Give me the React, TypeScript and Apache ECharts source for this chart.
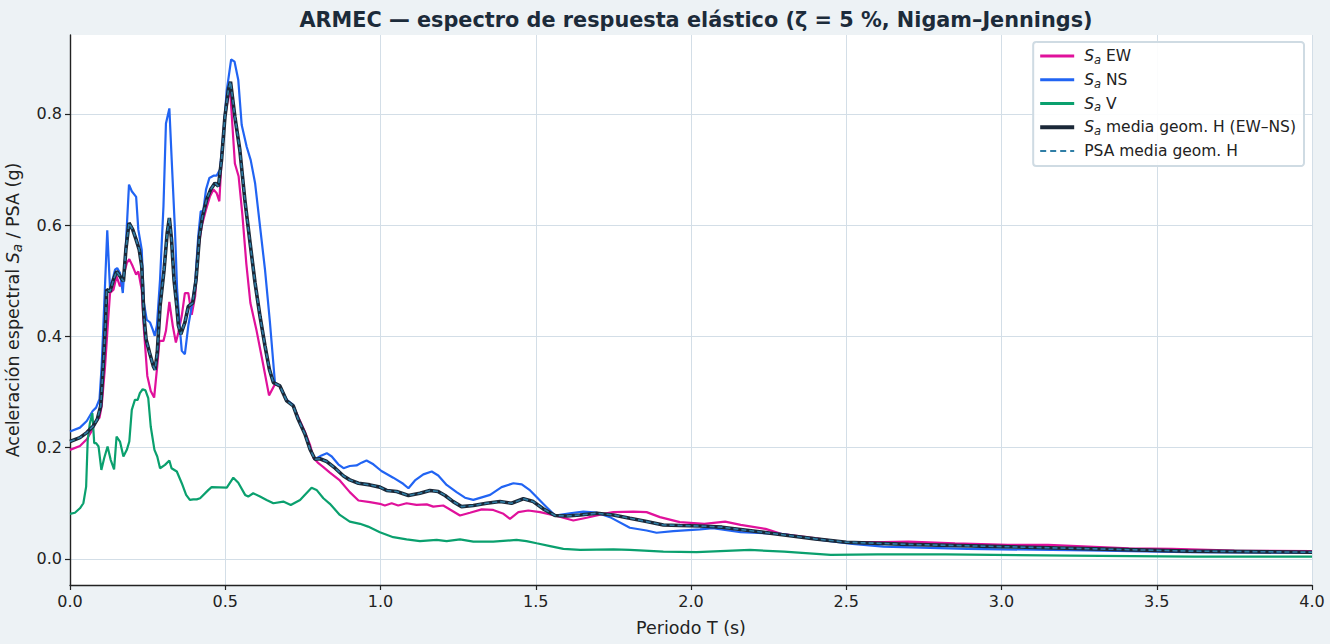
import React, { useEffect, useRef } from 'react';
import * as echarts from 'echarts';

type Pt = [number, number];

// Periodo T (s) vs Sa (g)
const sa_EW: Pt[] = [
  [0, 0.196], [0.032, 0.203], [0.054, 0.215], [0.07, 0.23], [0.084, 0.248], [0.095, 0.254], [0.102, 0.275],
  [0.113, 0.347], [0.123, 0.431], [0.129, 0.478], [0.14, 0.484], [0.15, 0.508], [0.161, 0.49], [0.172, 0.508],
  [0.183, 0.532], [0.191, 0.539], [0.202, 0.526], [0.213, 0.511], [0.22, 0.517], [0.231, 0.484], [0.238, 0.413],
  [0.249, 0.329], [0.26, 0.302], [0.271, 0.29], [0.281, 0.347], [0.288, 0.392], [0.301, 0.392], [0.309, 0.41],
  [0.32, 0.462], [0.331, 0.419], [0.341, 0.389], [0.349, 0.407], [0.36, 0.437], [0.37, 0.478], [0.381, 0.478],
  [0.392, 0.439], [0.403, 0.472], [0.413, 0.556], [0.424, 0.598], [0.438, 0.628], [0.451, 0.652], [0.462, 0.664],
  [0.472, 0.658], [0.481, 0.643], [0.488, 0.717], [0.499, 0.795], [0.515, 0.849], [0.531, 0.711], [0.543, 0.688],
  [0.555, 0.62], [0.568, 0.53], [0.581, 0.46], [0.601, 0.41], [0.622, 0.35], [0.641, 0.294], [0.66, 0.314],
  [0.676, 0.311], [0.698, 0.284], [0.719, 0.275], [0.735, 0.255], [0.757, 0.228], [0.773, 0.205], [0.784, 0.182],
  [0.8, 0.172], [0.816, 0.165], [0.837, 0.155], [0.869, 0.141], [0.901, 0.12], [0.929, 0.105], [0.966, 0.102],
  [0.998, 0.099], [1.014, 0.096], [1.036, 0.1], [1.057, 0.096], [1.084, 0.1], [1.116, 0.097], [1.149, 0.098],
  [1.17, 0.094], [1.202, 0.096], [1.229, 0.087], [1.256, 0.078], [1.288, 0.083], [1.326, 0.089], [1.363, 0.088],
  [1.396, 0.081], [1.417, 0.072], [1.444, 0.084], [1.476, 0.087], [1.514, 0.084], [1.568, 0.077], [1.621, 0.069],
  [1.664, 0.074], [1.718, 0.081], [1.75, 0.084], [1.814, 0.085], [1.857, 0.084], [1.9, 0.075], [1.964, 0.066],
  [2.043, 0.063], [2.11, 0.067], [2.16, 0.061], [2.24, 0.054], [2.29, 0.045], [2.39, 0.038], [2.49, 0.03],
  [2.62, 0.03], [2.7, 0.031], [2.85, 0.028], [3.02, 0.025], [3.15, 0.025], [3.41, 0.019], [3.55, 0.018],
  [3.75, 0.015], [4.0, 0.014],
];

const sa_NS: Pt[] = [
  [0, 0.229], [0.032, 0.236], [0.054, 0.248], [0.073, 0.266], [0.084, 0.272], [0.095, 0.287], [0.102, 0.347],
  [0.107, 0.413], [0.12, 0.591], [0.129, 0.484], [0.137, 0.502], [0.145, 0.52], [0.152, 0.523], [0.161, 0.514],
  [0.17, 0.478], [0.178, 0.544], [0.19, 0.673], [0.199, 0.661], [0.213, 0.651], [0.22, 0.592], [0.231, 0.556],
  [0.238, 0.46], [0.247, 0.43], [0.258, 0.425], [0.266, 0.413], [0.273, 0.401], [0.28, 0.42], [0.29, 0.502],
  [0.301, 0.634], [0.309, 0.783], [0.32, 0.81], [0.327, 0.724], [0.338, 0.592], [0.345, 0.484], [0.354, 0.413],
  [0.36, 0.374], [0.37, 0.368], [0.381, 0.419], [0.392, 0.454], [0.403, 0.496], [0.413, 0.58], [0.421, 0.625],
  [0.429, 0.625], [0.438, 0.664], [0.449, 0.685], [0.462, 0.689], [0.472, 0.689], [0.483, 0.7], [0.494, 0.765],
  [0.505, 0.843], [0.519, 0.898], [0.53, 0.894], [0.542, 0.861], [0.553, 0.78], [0.569, 0.741], [0.582, 0.717],
  [0.596, 0.676], [0.612, 0.598], [0.628, 0.52], [0.644, 0.425], [0.66, 0.317], [0.676, 0.311], [0.698, 0.286],
  [0.719, 0.277], [0.735, 0.253], [0.757, 0.224], [0.773, 0.197], [0.789, 0.179], [0.81, 0.186], [0.827, 0.19],
  [0.843, 0.184], [0.864, 0.17], [0.881, 0.163], [0.901, 0.167], [0.923, 0.168], [0.939, 0.173], [0.955, 0.177],
  [0.977, 0.17], [1.003, 0.158], [1.041, 0.146], [1.073, 0.135], [1.09, 0.127], [1.111, 0.141], [1.138, 0.152],
  [1.165, 0.157], [1.186, 0.15], [1.213, 0.133], [1.245, 0.12], [1.272, 0.11], [1.299, 0.106], [1.353, 0.115],
  [1.39, 0.129], [1.428, 0.136], [1.455, 0.134], [1.482, 0.123], [1.524, 0.099], [1.562, 0.078], [1.61, 0.082],
  [1.653, 0.085], [1.697, 0.083], [1.739, 0.075], [1.803, 0.056], [1.857, 0.051], [1.889, 0.047], [1.943, 0.05],
  [2.029, 0.053], [2.07, 0.055], [2.16, 0.048], [2.29, 0.045], [2.43, 0.033], [2.52, 0.027], [2.62, 0.022],
  [2.89, 0.018], [3.28, 0.015], [3.6, 0.012], [4.0, 0.011],
];

const sa_V: Pt[] = [
  [0, 0.081], [0.016, 0.083], [0.032, 0.091], [0.043, 0.1], [0.052, 0.13], [0.057, 0.214], [0.064, 0.244],
  [0.072, 0.262], [0.078, 0.208], [0.084, 0.208], [0.092, 0.202], [0.101, 0.16], [0.11, 0.181], [0.121, 0.202],
  [0.131, 0.178], [0.142, 0.161], [0.15, 0.22], [0.161, 0.211], [0.172, 0.184], [0.183, 0.196], [0.191, 0.211],
  [0.199, 0.268], [0.209, 0.286], [0.218, 0.286], [0.225, 0.298], [0.234, 0.305], [0.243, 0.303], [0.252, 0.289],
  [0.26, 0.238], [0.272, 0.196], [0.281, 0.184], [0.29, 0.163], [0.306, 0.169], [0.32, 0.177], [0.327, 0.163],
  [0.344, 0.157], [0.36, 0.136], [0.374, 0.115], [0.386, 0.106], [0.397, 0.107], [0.408, 0.107], [0.419, 0.109],
  [0.446, 0.124], [0.456, 0.129], [0.505, 0.128], [0.526, 0.146], [0.542, 0.137], [0.564, 0.115], [0.574, 0.112],
  [0.59, 0.118], [0.612, 0.112], [0.633, 0.106], [0.655, 0.1], [0.687, 0.103], [0.711, 0.097], [0.741, 0.106],
  [0.778, 0.128], [0.794, 0.124], [0.816, 0.109], [0.837, 0.099], [0.869, 0.079], [0.901, 0.067], [0.934, 0.063],
  [0.96, 0.058], [0.998, 0.048], [1.041, 0.039], [1.084, 0.035], [1.127, 0.032], [1.181, 0.034], [1.213, 0.032],
  [1.256, 0.035], [1.299, 0.031], [1.363, 0.031], [1.438, 0.034], [1.47, 0.032], [1.503, 0.028], [1.546, 0.023],
  [1.589, 0.018], [1.643, 0.016], [1.75, 0.017], [1.803, 0.016], [1.911, 0.013], [2.018, 0.012], [2.19, 0.016],
  [2.3, 0.013], [2.45, 0.007], [2.6, 0.008], [2.82, 0.008], [3.22, 0.006], [3.62, 0.004], [4.0, 0.004],
];

const sa_geoH: Pt[] = [
  [0, 0.211], [0.032, 0.218], [0.054, 0.227], [0.075, 0.239], [0.088, 0.251], [0.099, 0.275], [0.107, 0.347],
  [0.115, 0.431], [0.118, 0.484], [0.129, 0.481], [0.14, 0.502], [0.15, 0.517], [0.161, 0.508], [0.172, 0.499],
  [0.18, 0.556], [0.19, 0.604], [0.202, 0.592], [0.213, 0.574], [0.223, 0.556], [0.231, 0.526], [0.238, 0.437],
  [0.245, 0.395], [0.256, 0.371], [0.268, 0.347], [0.274, 0.34], [0.281, 0.371], [0.29, 0.454], [0.303, 0.52],
  [0.313, 0.586], [0.32, 0.613], [0.327, 0.574], [0.335, 0.502], [0.344, 0.454], [0.349, 0.42], [0.357, 0.404],
  [0.37, 0.425], [0.381, 0.454], [0.395, 0.46], [0.406, 0.502], [0.417, 0.58], [0.427, 0.616], [0.44, 0.646],
  [0.453, 0.664], [0.467, 0.676], [0.478, 0.67], [0.488, 0.717], [0.499, 0.795], [0.51, 0.843], [0.517, 0.858],
  [0.531, 0.795], [0.547, 0.735], [0.563, 0.646], [0.58, 0.568], [0.596, 0.496], [0.612, 0.436], [0.628, 0.383],
  [0.642, 0.341], [0.655, 0.317], [0.676, 0.311], [0.698, 0.284], [0.719, 0.275], [0.735, 0.251], [0.757, 0.224],
  [0.773, 0.197], [0.789, 0.179], [0.805, 0.18], [0.827, 0.175], [0.854, 0.163], [0.881, 0.149], [0.901, 0.142],
  [0.929, 0.136], [0.966, 0.133], [0.998, 0.129], [1.02, 0.123], [1.052, 0.121], [1.09, 0.114], [1.127, 0.118],
  [1.159, 0.123], [1.186, 0.121], [1.208, 0.114], [1.234, 0.103], [1.261, 0.094], [1.299, 0.096], [1.342, 0.1],
  [1.385, 0.103], [1.422, 0.1], [1.46, 0.108], [1.492, 0.103], [1.524, 0.09], [1.562, 0.078], [1.6, 0.077],
  [1.643, 0.079], [1.697, 0.082], [1.75, 0.079], [1.803, 0.073], [1.857, 0.067], [1.911, 0.061], [1.964, 0.06],
  [2.029, 0.059], [2.1, 0.057], [2.2, 0.05], [2.3, 0.043], [2.4, 0.036], [2.5, 0.03], [2.7, 0.026], [3.0, 0.022],
  [3.3, 0.018], [3.6, 0.014], [4.0, 0.012],
];

// the PSA curve sits right on top of the Sa geometric mean
const psa_geoH: Pt[] = sa_geoH;

const yTicks = [0, 0.2, 0.4, 0.6, 0.8];

const legendText: Record<string, string> = {
  EW: '{i|S}{s|a}{t| EW}',
  NS: '{i|S}{s|a}{t| NS}',
  V: '{i|S}{s|a}{t| V}',
  GEO: '{i|S}{s|a}{t| media geom. H (EW–NS)}',
  PSA: '{t|PSA media geom. H}',
};

const FONT = 'DejaVu Sans';
const INK = '#222';
const C = { EW: '#e0119b', NS: '#2164f3', V: '#0aa06e', GEO: '#1b2838', PSA: '#2f7ea6' };

export default function App() {
  const ref = useRef<HTMLDivElement | null>(null);

  useEffect(() => {
    document.body.style.margin = '0';
    if (!ref.current) return;
    const chart = echarts.init(ref.current, undefined, { renderer: 'svg' });

    const rich = (size: number) => ({
      t: { fontFamily: FONT, fontSize: size, color: INK, lineHeight: size + 4 },
      i: { fontFamily: FONT, fontSize: size, color: INK, fontStyle: 'italic', lineHeight: size + 4 },
      s: { fontFamily: FONT, fontSize: size - 4, color: INK, fontStyle: 'italic', verticalAlign: 'bottom', lineHeight: size - 5 },
    });

    const line = (name: string, data: Pt[], color: string, width: number, extra: any = {}) => ({
      name,
      type: 'line',
      data,
      showSymbol: false,
      symbol: 'none',
      smooth: false,
      lineStyle: { color, width, ...extra },
      itemStyle: { color },
      emphasis: { disabled: true },
    });

    chart.setOption({
      animation: false,
      backgroundColor: '#edf2f5',
      title: {
        text: 'ARMEC — espectro de respuesta elástico (ζ = 5 %, Nigam–Jennings)',
        left: 691,
        top: 4,
        textAlign: 'center',
        textStyle: { fontFamily: FONT, fontSize: 20.8, fontWeight: 'bold', color: '#1c2b3a' },
      },
      grid: {
        left: 70, right: 18, top: 35, bottom: 59,
        outerBoundsMode: 'none', containLabel: false,
        show: true, backgroundColor: '#fff', borderWidth: 0,
      },
      legend: {
        orient: 'vertical',
        right: 26,
        top: 42,
        padding: [6, 8, 7, 5],
        itemGap: 6,
        itemWidth: 34,
        itemHeight: 14,
        backgroundColor: 'rgba(255,255,255,0.9)',
        borderColor: '#cfdbe3',
        borderWidth: 2,
        borderRadius: 3,
        itemStyle: { opacity: 0, borderWidth: 0 },
        data: [
          { name: 'EW', lineStyle: { width: 3, color: C.EW } },
          { name: 'NS', lineStyle: { width: 3, color: C.NS } },
          { name: 'V', lineStyle: { width: 3, color: C.V } },
          { name: 'GEO', lineStyle: { width: 4, color: C.GEO } },
          { name: 'PSA', lineStyle: { width: 2.2, color: C.PSA, type: [6, 4] } },
        ],
        formatter: (n: string) => legendText[n],
        textStyle: { fontFamily: FONT, fontSize: 15.5, color: INK, padding: [0, 0, 0, 5], rich: rich(15.5) },
      },
      xAxis: {
        type: 'value',
        min: 0,
        max: 4,
        interval: 0.5,
        name: 'Periodo T (s)',
        nameLocation: 'middle',
        nameGap: 34,
        nameTextStyle: { fontFamily: FONT, fontSize: 17.5, color: INK },
        axisLine: { onZero: false, lineStyle: { color: INK, width: 1.4 } },
        axisTick: { show: true, length: 5, lineStyle: { color: INK, width: 1.2 } },
        axisLabel: { fontFamily: FONT, fontSize: 16, color: INK, margin: 8, formatter: (v: number) => v.toFixed(1) },
        splitLine: { show: true, lineStyle: { color: '#d3dee7', width: 1 } },
      },
      yAxis: {
        type: 'value',
        min: -0.047,
        max: 0.942,
        name: 'Aceleración espectral {i|S}{s|a}{t| / PSA (g)}',
        nameLocation: 'middle',
        nameGap: 46,
        nameTextStyle: { fontFamily: FONT, fontSize: 17.5, color: INK, rich: rich(17.5) },
        axisLine: { show: true, onZero: false, lineStyle: { color: INK, width: 1.4 } },
        axisTick: { show: true, length: 5, customValues: yTicks, lineStyle: { color: INK, width: 1.2 } },
        axisLabel: {
          fontFamily: FONT, fontSize: 16, color: INK, margin: 8, customValues: yTicks,
          formatter: (v: number) => v.toFixed(1),
        },
        splitLine: { show: true, lineStyle: { color: '#d3dee7', width: 1 } },
      },
      series: [
        line('EW', sa_EW, C.EW, 2.2),
        line('NS', sa_NS, C.NS, 2.2),
        line('V', sa_V, C.V, 2.2),
        line('GEO', sa_geoH, C.GEO, 3.6),
        line('PSA', psa_geoH, C.PSA, 1.6, { type: [5, 3] }),
      ],
    });

    return () => chart.dispose();
  }, []);

  return <div ref={ref} style={{ width: 1330, height: 644 }} />;
}
